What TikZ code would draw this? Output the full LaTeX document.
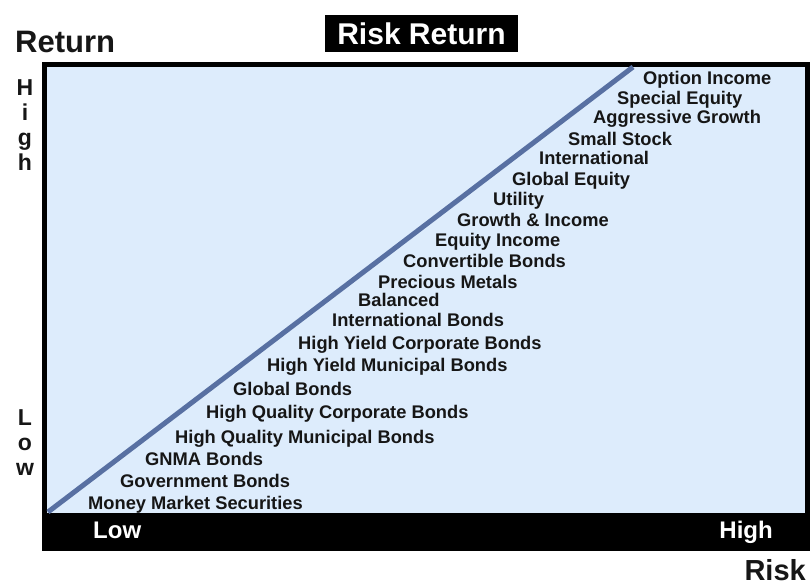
\documentclass[tikz,border=0pt]{standalone}
\usepackage{fontspec}
\setmainfont{Liberation Sans}

\definecolor{chartbg}{RGB}{221,236,252}
\definecolor{trend}{RGB}{88,112,162}
\definecolor{ink}{RGB}{22,22,22}

\tikzset{
	fund/.style={anchor=base west, inner sep=0pt, text=ink, font=\fontsize{18.3}{20}\selectfont\bfseries},
	axisletter/.style={anchor=base, inner sep=0pt, text=ink, font=\fontsize{23}{25}\selectfont\bfseries},
	bandlabel/.style={anchor=base west, inner sep=0pt, text=white, font=\fontsize{24}{26}\selectfont\bfseries},
	axistitle/.style={inner sep=0pt, text=ink, font=\fontsize{31}{33}\selectfont\bfseries}
}

\begin{document}
\begin{tikzpicture}[x=1pt, y=-1pt]
	\useasboundingbox (0,0) rectangle (810,585);

	% title and axis names
	\node[fill=black, text=white, minimum width=193pt, minimum height=37pt, inner sep=0pt,
		font=\fontsize{30}{32}\selectfont\bfseries] (title) at (421.5,33.5) {Risk Return};
	\node[axistitle, anchor=base west] (ret) at (15,53) {Return};
	\node[axistitle, anchor=base east, font=\fontsize{29}{31}\selectfont\bfseries] (risk) at (806,580) {Risk};

	% chart frame
	\fill[black] (42,62) rectangle (810,551);
	\fill[chartbg] (47,67) rectangle (805,513);

	% risk band
	\node[bandlabel] (risklow) at (93,538) {Low};
	\node[bandlabel, anchor=base east] (riskhigh) at (773,538) {High};

	% return scale, letters stacked
	\foreach \ch [count=\i] in {H,i,g,h}
		\node[axisletter] (high\i) at (25,{96+25*(\i-1)}) {\ch};
	\foreach \ch [count=\i] in {L,o,w}
		\node[axisletter] (low\i) at (25,{425+25*(\i-1)}) {\ch};

	% trend line
	\coordinate (origin) at (48,512);
	\coordinate (peak) at (633,67);
	\draw[trend, line width=5pt] (origin) -- (peak);

	% funds, low risk at the bottom
	\node[fund] (optinc) at (643,84.5) {Option Income};
	\node[fund] (speceq) at (617,104.5) {Special Equity};
	\node[fund] (agggrowth) at (593,123.5) {Aggressive Growth};
	\node[fund] (smallstock) at (568,145.5) {Small Stock};
	\node[fund] (intl) at (539,164.5) {International};
	\node[fund] (globeq) at (512,185.5) {Global Equity};
	\node[fund] (utility) at (493,205.5) {Utility};
	\node[fund] (growinc) at (457,226.5) {Growth \& Income};
	\node[fund] (eqinc) at (435,246.5) {Equity Income};
	\node[fund] (convbonds) at (403,267.5) {Convertible Bonds};
	\node[fund] (preciousm) at (378,288.5) {Precious Metals};
	\node[fund] (balanced) at (358,306.5) {Balanced};
	\node[fund] (intlbonds) at (332,326.5) {International Bonds};
	\node[fund] (hycorp) at (298,349.5) {High Yield Corporate Bonds};
	\node[fund] (hymuni) at (267,371.5) {High Yield Municipal Bonds};
	\node[fund] (globbonds) at (233,395.5) {Global Bonds};
	\node[fund] (hqcorp) at (206,418.5) {High Quality Corporate Bonds};
	\node[fund] (hqmuni) at (175,443.5) {High Quality Municipal Bonds};
	\node[fund] (gnma) at (145,465.5) {GNMA Bonds};
	\node[fund] (govbonds) at (120,487.5) {Government Bonds};
	\node[fund] (moneymkt) at (88,509.5) {Money Market Securities};
\end{tikzpicture}
\end{document}
